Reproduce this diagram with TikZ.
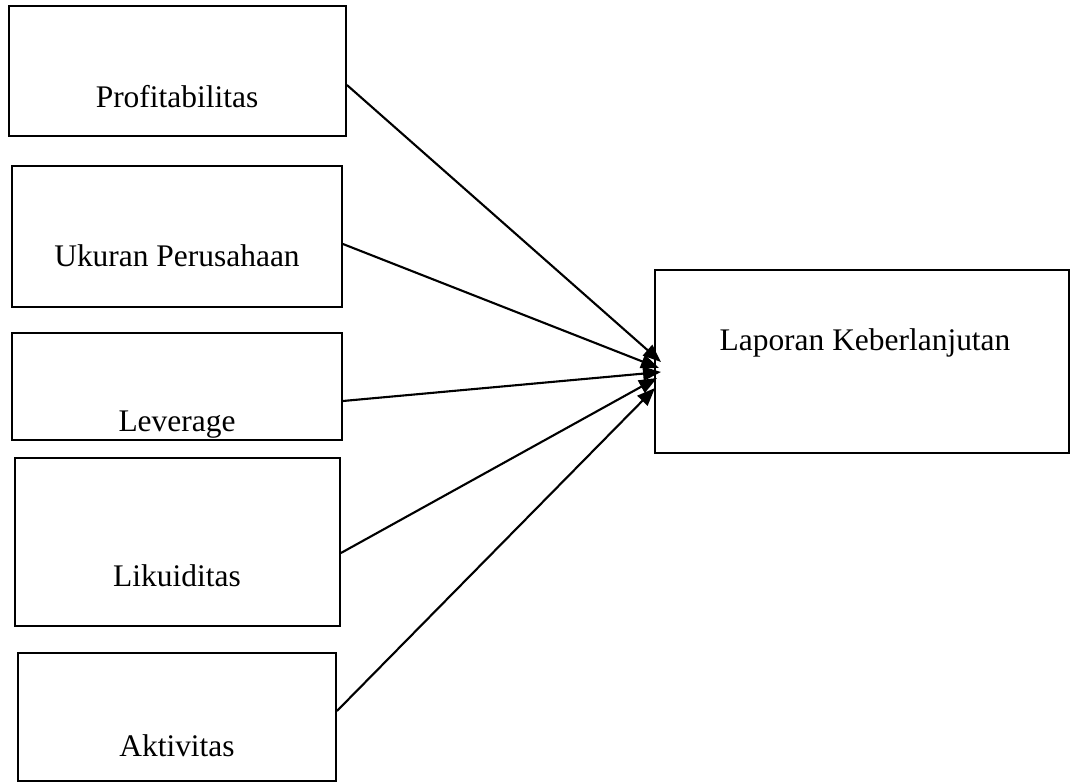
\documentclass[tikz,border=0pt]{standalone}
\usepackage{fontspec}
\setmainfont{Liberation Serif}
\usetikzlibrary{arrows.meta, positioning}

\begin{document}
\begin{tikzpicture}[x=0.02cm, y=-0.02cm,
    box/.style={draw, line width=1.1pt, inner sep=0pt},
    label/.style={anchor=base, font=\fontsize{17.9}{21}\selectfont},
    arrow/.style={line width=1.2pt, -{Triangle[length=0.36cm, width=0.28cm]}}]

\useasboundingbox (0,0) rectangle (1073,784);

% Variable boxes (left column)
\node[box, minimum width=6.74cm, minimum height=2.6cm] (prof) at (177.5,71) {};
\node[box, minimum width=6.6cm, minimum height=2.82cm] (ukuran) at (177,236.5) {};
\node[box, minimum width=6.6cm, minimum height=2.14cm] (lev) at (177,386.5) {};
\node[box, minimum width=6.5cm, minimum height=3.36cm] (likuid) at (177.5,542) {};
\node[box, minimum width=6.36cm, minimum height=2.56cm] (aktiv) at (177,717) {};

% Dependent variable box
\node[box, minimum width=8.28cm, minimum height=3.66cm] (lapor) at (862,361.5) {};

% Labels
\node[label] (profLabel) at (177,108) {Profitabilitas};
\node[label] (ukuranLabel) at (177,267) {Ukuran Perusahaan};
\node[label] (levLabel) at (177,431) {Leverage};
\node[label] (likuidLabel) at (177,586) {Likuiditas};
\node[label] (aktivLabel) at (177,756) {Aktivitas};
\node[label] (laporLabel) at (865,350) {Laporan Keberlanjutan};

% Arrow tips at the left side of the dependent box
\coordinate (tipA) at (661,362);
\coordinate (tipB) at (659,368);
\coordinate (tipC) at (661,372);
\coordinate (tipD) at (657,378);
\coordinate (tipE) at (655,388);

% Arrows
\foreach \src/\dy/\tip in {prof/-0.28/tipA, ukuran/-0.15/tipB, lev/-0.29/tipC, likuid/-0.22/tipD, aktiv/0.12/tipE}
{
    \draw[arrow] ([yshift=\dy cm]\src.east) -- (\tip);
}

\end{tikzpicture}
\end{document}
